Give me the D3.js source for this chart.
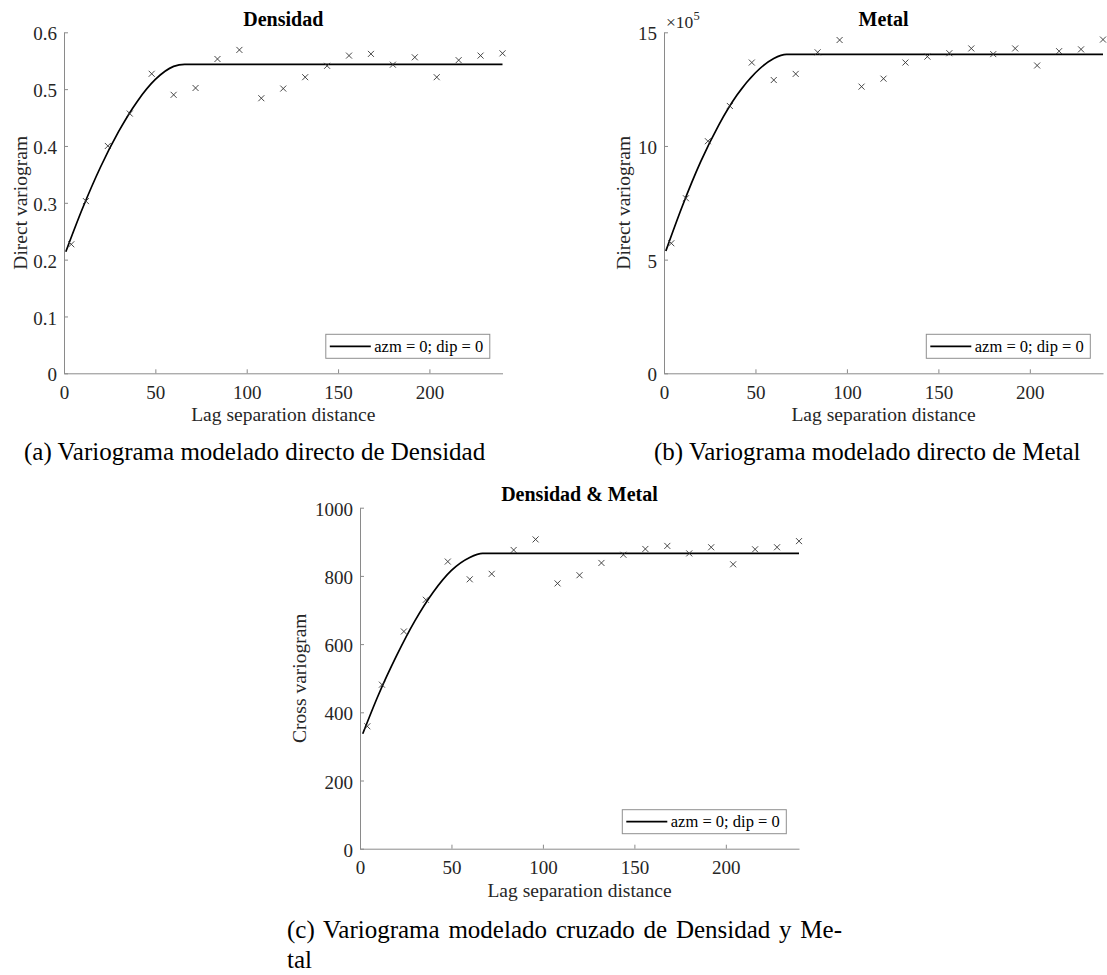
<!DOCTYPE html>
<html>
<head>
<meta charset="utf-8">
<script src="https://cdn.jsdelivr.net/npm/d3@7"></script>
<style>
  html, body { margin: 0; padding: 0; background: #fff; }
  svg { display: block; }
  text { font-family: "Liberation Serif", "Times New Roman", serif; }
</style>
</head>
<body>
<svg id="chart" width="1107" height="975"></svg>
<script>
// ---------------- DATA ----------------
const lags = [4, 12, 24, 36, 48, 60, 72, 84, 96, 108, 120, 132, 144, 156, 168, 180, 192, 204, 216, 228, 240];

const densidadValues = [0.227, 0.303, 0.400, 0.457, 0.527, 0.490, 0.502, 0.553, 0.569, 0.484, 0.501, 0.521, 0.541, 0.559, 0.562, 0.543, 0.556, 0.521, 0.551, 0.559, 0.563];
const metalValues = [572000, 770000, 1021000, 1176000, 1367000, 1290000, 1317000, 1412000, 1466000, 1261000, 1296000, 1367000, 1393000, 1408000, 1429000, 1404000, 1429000, 1354000, 1417000, 1425000, 1468000];
const crossValues = [359, 481, 637, 730, 842, 790, 806, 876, 907, 778, 802, 838, 862, 879, 888, 866, 884, 834, 878, 884, 902];

// fitted model curves (lag, value)
const densidadModelLag = [1, 10, 20, 30, 40, 50, 60, 66, 240];
const densidadModelVal = [0.214, 0.289, 0.363, 0.426, 0.478, 0.517, 0.540, 0.5437, 0.5437];
const metalModelLag = [1, 10, 20, 30, 40, 50, 60, 67, 240];
const metalModelVal = [538000, 735000, 930000, 1093000, 1225000, 1322000, 1385000, 1403000, 1403000];
const crossModelLag = [1.5, 10, 20, 30, 40, 50, 60, 67, 240];
const crossModelVal = [337, 450, 566, 668, 752, 816, 854, 866, 866];

const xTicks = [0, 50, 100, 150, 200];
const densidadTicks = [0, 0.1, 0.2, 0.3, 0.4, 0.5, 0.6];
const densidadTickLabels = ["0", "0.1", "0.2", "0.3", "0.4", "0.5", "0.6"];
const metalTicks = [0, 500000, 1000000, 1500000];
const metalTickLabels = ["0", "5", "10", "15"];
const crossTicks = [0, 200, 400, 600, 800, 1000];
const crossTickLabels = ["0", "200", "400", "600", "800", "1000"];

const titles = ["Densidad", "Metal", "Densidad & Metal"];
const yLabels = ["Direct variogram", "Direct variogram", "Cross variogram"];
const xLabel = "Lag separation distance";
const legendLabel = "azm = 0; dip = 0";
const captions = ["(a) Variograma modelado directo de Densidad", "(b) Variograma modelado directo de Metal"];
const captionC = ["(c) Variograma modelado cruzado de Densidad y Me-", "tal"];

// ---------------- LAYOUT ----------------
const svg = d3.select("#chart");
svg.append("rect").attr("width", 1107).attr("height", 975).attr("fill", "#fff");

const axisColor = "#8a8a8a";
const tickTextColor = "#262626";

const panels = [
  { left: 64, top: 32.3, width: 438.5, height: 341, ymax: 0.6, ticks: densidadTicks, labels: densidadTickLabels,
    vals: densidadValues, mLag: densidadModelLag, mVal: densidadModelVal, title: titles[0], ylabel: yLabels[0], ylabelX: 27 },
  { left: 664, top: 32.3, width: 439, height: 341, ymax: 1500000, ticks: metalTicks, labels: metalTickLabels,
    vals: metalValues, mLag: metalModelLag, mVal: metalModelVal, title: titles[1], ylabel: yLabels[1], ylabelX: 630, exponent: true },
  { left: 360, top: 507.7, width: 439, height: 341, ymax: 1000, ticks: crossTicks, labels: crossTickLabels,
    vals: crossValues, mLag: crossModelLag, mVal: crossModelVal, title: titles[2], ylabel: yLabels[2], ylabelX: 306 }
];

panels.forEach(p => {
  const g = svg.append("g").attr("transform", `translate(${p.left},${p.top})`);
  const x = d3.scaleLinear().domain([0, 240]).range([0, p.width]);
  const y = d3.scaleLinear().domain([0, p.ymax]).range([p.height, 0]);

  // x axis (ticks inward)
  const xa = g.append("g").attr("transform", `translate(0,${p.height})`)
    .call(d3.axisBottom(x).tickValues(xTicks).tickSizeInner(-4).tickSizeOuter(0).tickPadding(12).tickFormat(d3.format("d")));
  // y axis
  const ya = g.append("g")
    .call(d3.axisLeft(y).tickValues(p.ticks).tickSizeInner(-4).tickSizeOuter(0).tickPadding(7)
      .tickFormat((d, i) => p.labels[i]));

  [xa, ya].forEach(a => {
    a.select(".domain").attr("stroke", axisColor).attr("stroke-width", 1);
    a.selectAll(".tick line").attr("stroke", axisColor).attr("stroke-width", 1);
    a.selectAll(".tick text").attr("fill", tickTextColor)
      .style("font-family", '"Liberation Serif", serif').style("font-size", "19px");
  });
  xa.selectAll(".tick text").attr("dy", "0.71em").attr("y", 12);
  ya.selectAll(".tick text").attr("dy", "0.40em");

  // model curve
  const curvePts = p.mLag.map((l, i) => [l, p.mVal[i]]);
  g.append("path")
    .datum(curvePts)
    .attr("fill", "none")
    .attr("stroke", "#000")
    .attr("stroke-width", 1.7)
    .attr("d", d3.line().x(d => x(d[0])).y(d => y(d[1])).curve(d3.curveMonotoneX));

  // experimental points (crosses)
  g.selectAll(".pt")
    .data(lags.map((l, i) => [l, p.vals[i]]))
    .enter().append("path")
    .attr("class", "pt")
    .attr("transform", d => `translate(${x(d[0])},${y(d[1])})`)
    .attr("d", "M-3,-3L3,3M-3,3L3,-3")
    .attr("stroke", "#333")
    .attr("stroke-width", 0.9)
    .attr("fill", "none");

  // title
  g.append("text")
    .attr("x", p.width / 2).attr("y", -6.5)
    .attr("text-anchor", "middle")
    .style("font-size", "20px").style("font-weight", "bold")
    .attr("fill", "#000")
    .text(p.title);

  // x label
  g.append("text")
    .attr("x", p.width / 2).attr("y", p.height + 48)
    .attr("text-anchor", "middle")
    .style("font-size", "19.5px")
    .attr("fill", tickTextColor)
    .text(xLabel);

  // y label
  svg.append("text")
    .attr("transform", `translate(${p.ylabelX},${p.top + p.height / 2}) rotate(-90)`)
    .attr("text-anchor", "middle")
    .style("font-size", "19.5px")
    .attr("fill", tickTextColor)
    .text(p.ylabel);

  // exponent label
  if (p.exponent) {
    const t = g.append("text").attr("x", 2).attr("y", -4).attr("fill", tickTextColor).style("font-size", "17.5px");
    t.append("tspan").text("\u00d710");
    t.append("tspan").attr("dy", -8).style("font-size", "12.5px").text("5");
  }

  // legend
  const lw = 164, lh = 24;
  const lx = p.width - 12.7 - lw, ly = p.height - 15 - lh;
  const lg = g.append("g").attr("transform", `translate(${lx},${ly})`);
  lg.append("rect").attr("width", lw).attr("height", lh)
    .attr("fill", "#fff").attr("stroke", "#8f8f8f").attr("stroke-width", 1);
  lg.append("line").attr("x1", 4).attr("x2", 45).attr("y1", lh / 2).attr("y2", lh / 2)
    .attr("stroke", "#000").attr("stroke-width", 1.7);
  lg.append("text").attr("x", 48.5).attr("y", lh / 2 + 5.5)
    .style("font-size", "16.5px").attr("fill", "#000")
    .text(legendLabel);
});

// captions
svg.append("text").attr("x", 24).attr("y", 460).style("font-size", "25px").attr("fill", "#000").text(captions[0]);
svg.append("text").attr("x", 654).attr("y", 460).style("font-size", "25px").attr("fill", "#000").text(captions[1]);
svg.append("text").attr("x", 287).attr("y", 938).style("font-size", "25px").style("word-spacing", "2.5px").attr("fill", "#000").text(captionC[0]);
svg.append("text").attr("x", 287).attr("y", 968).style("font-size", "25px").attr("fill", "#000").text(captionC[1]);
</script>
</body>
</html>
